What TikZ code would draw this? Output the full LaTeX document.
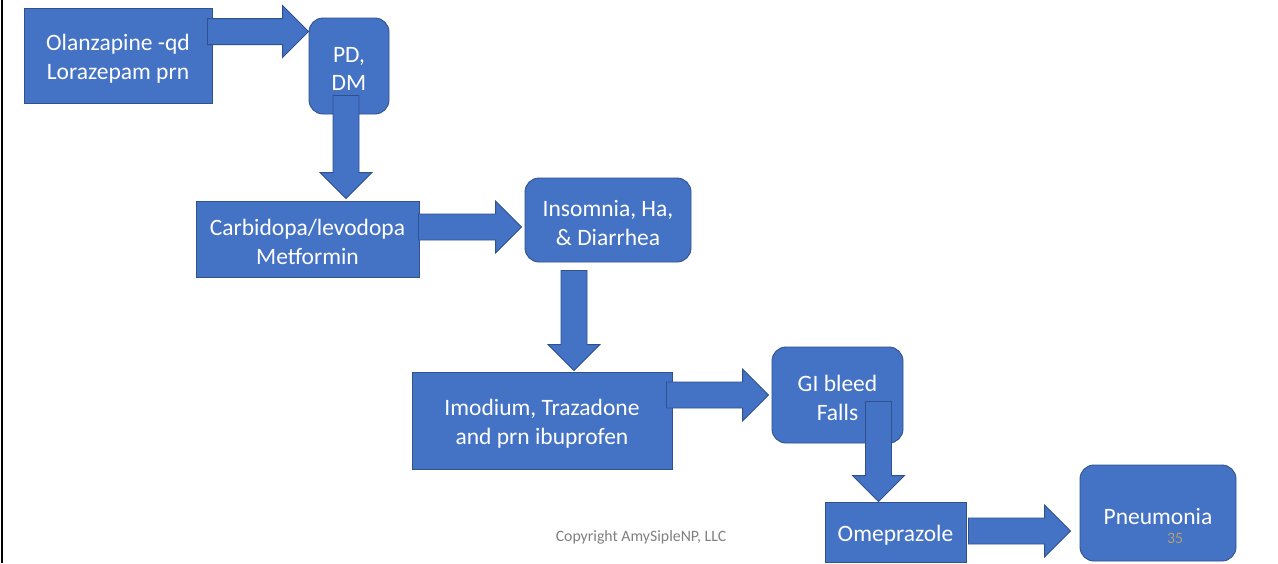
\documentclass[tikz,border=0pt]{standalone}
\usepackage{fontspec}
\setmainfont{Carlito}
\usetikzlibrary{calc}
\definecolor{boxblue}{HTML}{4472C4}
\definecolor{boxedge}{HTML}{2F528F}
\definecolor{copygrey}{HTML}{808080}
\definecolor{numtan}{HTML}{B0A07A}
\tikzset{
  boxtext/.style={text=white, align=center, inner sep=0pt, yshift=-3pt,
    font=\fontsize{23.5}{28.5}\selectfont},
  base/.style={fill=boxblue, draw=boxedge, line width=0.9pt, inner sep=0pt},
  sqbox/.style={base},
  rbox/.style={base, rounded corners=14pt},
  blockarrow/.style={fill=boxblue, draw=boxedge, line width=0.9pt},
  smalltext/.style={font=\fontsize{15.8}{19}\selectfont, inner sep=0pt}
}
\newcommand\harr[2]{\path[blockarrow] let \p1=(#1),\p2=(#2) in
  (\x1,\y1+13pt) -- (\x2-26pt,\y1+13pt) -- (\x2-26pt,\y1+26pt) -- (\x2,\y1)
  -- (\x2-26pt,\y1-26pt) -- (\x2-26pt,\y1-13pt) -- (\x1,\y1-13pt) -- cycle;}
\newcommand\varr[2]{\path[blockarrow] let \p1=(#1),\p2=(#2) in
  (\x1-13pt,\y1) -- (\x1-13pt,\y2+26pt) -- (\x1-26pt,\y2+26pt) -- (\x1,\y2)
  -- (\x1+26pt,\y2+26pt) -- (\x1+13pt,\y2+26pt) -- (\x1+13pt,\y1) -- cycle;}
\begin{document}
\begin{tikzpicture}[x=1pt,y=-1pt]
\useasboundingbox[fill=white] (0,0) rectangle (1278,563);
\draw[line width=2pt] (2,0) -- (2,563);

\node[sqbox, minimum width=188pt, minimum height=95pt,
  label={[boxtext]center:Olanzapine -qd\\Lorazepam prn}] (b1) at (118,55.5) {};
\node[rbox, minimum width=80pt, minimum height=96pt,
  label={[boxtext]center:PD,\\DM}] (pd) at (349,66) {};
\node[sqbox, minimum width=223pt, minimum height=76pt,
  label={[boxtext]center:Carbidopa/levodopa\\Metformin}] (cl) at (307.5,239) {};
\node[rbox, minimum width=166pt, minimum height=84pt,
  label={[boxtext]center:Insomnia, Ha,\\\& Diarrhea}] (ins) at (608,220) {};
\node[sqbox, minimum width=260pt, minimum height=97pt,
  label={[boxtext]center:Imodium, Trazadone\\and prn ibuprofen}] (imo) at (542,420.5) {};
\node[rbox, minimum width=131pt, minimum height=96pt,
  label={[boxtext]center:GI bleed\\Falls}] (gi) at (837.5,395) {};
\node[sqbox, minimum width=141pt, minimum height=60pt,
  label={[boxtext]center:Omeprazole}] (ome) at (895.5,532) {};
\node[rbox, minimum width=156pt, minimum height=96pt,
  label={[boxtext]center:Pneumonia}] (pn) at (1158,513) {};

\coordinate (a1s) at ($(b1.north east)+(-5,24)$);
\coordinate (a1t) at ($(pd.north west)+(0,14)$);
\coordinate (a2s) at ($(pd.south)+(-3,-19)$);
\coordinate (a2t) at ($(cl.north west)+(150,-2)$);
\coordinate (a3s) at ($(cl.east)+(-1,-12)$);
\coordinate (a3t) at ($(ins.west)+(-3,7)$);
\coordinate (a4s) at ($(ins.south)+(-34,8)$);
\coordinate (a4t) at ($(imo.north)+(32,-1)$);
\coordinate (a5s) at ($(imo.east)+(-6,-25.5)$);
\coordinate (a5t) at ($(gi.west)+(-3,0)$);
\coordinate (a6s) at ($(gi.south east)+(-25,-42)$);
\coordinate (a6t) at ($(ome.north)+(-17.5,0)$);
\coordinate (a7s) at ($(ome.east)+(2,-1)$);
\coordinate (a7t) at ($(pn.west)+(-9,18)$);

\harr{a1s}{a1t}
\varr{a2s}{a2t}
\harr{a3s}{a3t}
\varr{a4s}{a4t}
\harr{a5s}{a5t}
\varr{a6s}{a6t}
\harr{a7s}{a7t}

\node[smalltext, text=copygrey] (copy) at (641,537) {Copyright AmySipleNP, LLC};
\node[smalltext, text=numtan] (num) at (1175,538) {35};
\end{tikzpicture}
\end{document}
